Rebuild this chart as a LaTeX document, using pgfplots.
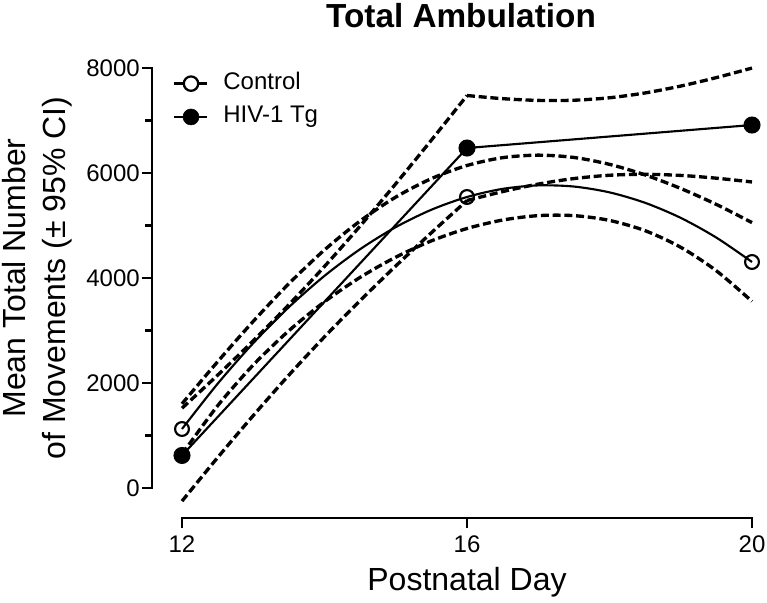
\documentclass[border=0pt]{standalone}
\usepackage{fontspec}
\setmainfont{Liberation Sans}
\usepackage{pgfplots}
\pgfplotsset{compat=1.18}
\begin{document}
\begin{tikzpicture}
\pgfplotsset{
  band/.style={line width=2.5pt, dash pattern=on 6pt off 2.8pt, smooth, no marks, black},
}
\begin{axis}[
  scale only axis, width=450pt, height=337.5pt,
  xmin=11.5789, xmax=20, ymin=-571.4, ymax=8000,
  axis x line*=bottom, axis y line*=left,
  axis line style={draw=none},
  clip=false,
  xtick={12,16,20},
  ytick={0,2000,4000,6000,8000},
  minor ytick={1000,3000,5000,7000},
  tick align=outside,
  major tick length=7.5pt, minor tick length=5pt,
  every tick/.style={line width=2pt, black},
  every minor tick/.style={line width=2pt, black},
  scaled y ticks=false,
  /pgf/number format/1000 sep={},
  /pgf/number format/assume math mode=true,
  ticklabel style={font=\fontsize{18}{20}\selectfont},
  yticklabel style={inner xsep=1.5pt},
  xticklabel style={yshift=-2.5pt},
  title={Total Ambulation},
  title style={font=\fontsize{25}{28}\selectfont\bfseries, at={(axis description cs:0.515,1.0733)}, anchor=base},
  xlabel={Postnatal Day},
  xlabel style={font=\fontsize{24}{28}\selectfont, at={(axis description cs:0.525,-0.1622)}, anchor=base},
  ylabel={Mean Total Number\\of Movements (± 95\% CI)},
  ylabel style={font=\fontsize{24}{30}\selectfont, align=center, at={(axis description cs:-0.1333,0.5333)}, anchor=south, inner sep=0pt},
  legend style={at={(axis description cs:0.035,0.997)}, anchor=north west, draw=none, fill=none,
    font=\fontsize{18}{20}\selectfont, row sep=4pt, column sep=9pt, inner sep=0pt,
    nodes={inner sep=2pt, text height=13pt, text depth=4pt}},
  legend cell align=left,
]
% legend entries
\addlegendimage{legend image code/.code={
  \draw[line width=1.8pt] (0pt,0pt) -- (24.75pt,0pt);
  \draw[line width=1.7pt, fill=white] (12.4pt,0pt) circle (5.4pt);}}
\addlegendentry{Control}
\addlegendimage{legend image code/.code={
  \draw[line width=1.8pt] (0pt,0pt) -- (24.75pt,0pt);
  \fill (12.4pt,0pt) circle (6pt);}}
\addlegendentry{HIV-1 Tg}

% Control 95% CI band (quadratic fit)
\addplot[band, forget plot] coordinates {
(12,1604) (12.5,2406) (13,3175) (13.5,3892) (14,4535) (14.5,5086) (15,5541) (15.5,5893)
(16,6143) (16.5,6292) (17,6340) (17.5,6296) (18,6165) (18.5,5963) (19,5705) (19.5,5401) (20,5055)};
\addplot[band, forget plot] coordinates {
(12,644) (12.5,1566) (13,2343) (13.5,2996) (14,3547) (14.5,4012) (15,4397) (15.5,4707)
(16,4943) (16.5,5104) (17,5188) (17.5,5188) (18,5097) (18.5,4901) (19,4585) (19.5,4137) (20,3555)};
% HIV-1 Tg 95% CI band
\addplot[band, forget plot] coordinates {
(12,1520) (12.5,2149) (13,2804) (13.5,3492) (14,4221) (14.5,4990) (15,5795) (15.5,6626) (16,7476)};
\addplot[band, forget plot] coordinates {
(16,7476) (16.5,7416) (17,7383) (17.5,7386) (18,7433) (18.5,7525) (19,7656) (19.5,7817) (20,7999)};
\addplot[band, forget plot] coordinates {
(12,-250) (12.5,580) (13,1380) (13.5,2150) (14,2880) (14.5,3570) (15,4229) (15.5,4862) (16,5476)};
\addplot[band, forget plot] coordinates {
(16,5476) (16.5,5646) (17,5789) (17.5,5894) (18,5957) (18.5,5975) (19,5954) (19.5,5901) (20,5829)};

% Control fit
\addplot[line width=1.6pt, smooth, no marks, black, forget plot] coordinates {
(12,1124) (12.5,1986) (13,2759) (13.5,3444) (14,4041) (14.5,4549) (15,4969) (15.5,5300)
(16,5543) (16.5,5698) (17,5764) (17.5,5742) (18,5631) (18.5,5432) (19,5145) (19.5,4769) (20,4305)};
\addplot[only marks, mark=o, mark size=5.2pt, line width=1.6pt, black, forget plot] coordinates {
(12,1124) (16,5543) (20,4305)};
% HIV-1 Tg
\addplot[line width=1.6pt, black, mark=*, mark size=5.6pt, forget plot] coordinates {
(12,620) (16,6476) (20,6914)};

% axis lines
\draw[line width=2pt, line cap=rect] (axis cs:11.5789,0) -- (axis cs:11.5789,8000);
\draw[line width=2pt, line cap=rect] (axis cs:12,-571.4) -- (axis cs:20,-571.4);

\coordinate (bbBL) at (axis description cs:-0.25333,-0.18667);
\coordinate (bbTR) at (axis description cs:1.025,1.15111);
\end{axis}
\pgfresetboundingbox
\path[use as bounding box] (bbBL) rectangle (bbTR);
\end{tikzpicture}
\end{document}
